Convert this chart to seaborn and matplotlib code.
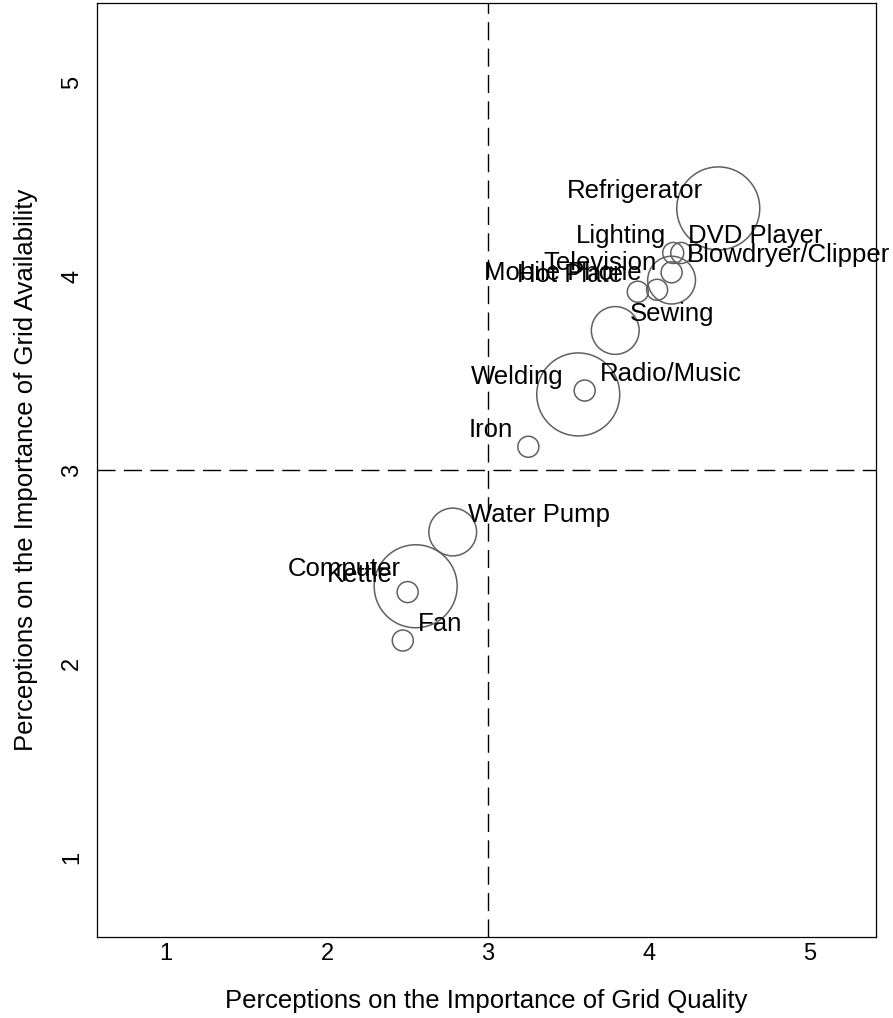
import matplotlib
matplotlib.use("Agg")
import matplotlib.pyplot as plt
import seaborn as sns
import pandas as pd

# ---- data ----
appliances = ["Refrigerator", "Lighting", "DVD Player", "Television", "Blowdryer/Clipper",
              "Mobile Phone", "Hot Plate", "Sewing", "Welding", "Radio/Music",
              "Iron", "Water Pump", "Computer", "Kettle", "Fan"]
grid_quality = [4.43, 4.20, 4.15, 4.14, 4.14, 4.05, 3.93, 3.79, 3.56, 3.60,
                3.25, 2.78, 2.55, 2.50, 2.47]
grid_availability = [4.35, 4.12, 4.12, 3.98, 4.02, 3.93, 3.92, 3.72, 3.39, 3.41,
                     3.12, 2.68, 2.40, 2.37, 2.12]
weight = [15, 1, 1, 5, 1, 1, 1, 5, 15, 1, 1, 5, 15, 1, 1]
label_side = ["left", "left", "right", "left", "right", "left", "left", "right",
              "left", "right", "left", "right", "left", "left", "right"]
tick_values = [1, 2, 3, 4, 5]
xlabel = "Perceptions on the Importance of Grid Quality"
ylabel = "Perceptions on the Importance of Grid Availability"

df = pd.DataFrame({"appliance": appliances, "quality": grid_quality,
                   "availability": grid_availability, "weight": weight})

sns.set_theme(style="white")
plt.rcParams["font.family"] = ["Liberation Sans", "DejaVu Sans"]
plt.rcParams["text.color"] = "black"
plt.rcParams["axes.labelcolor"] = "black"
plt.rcParams["xtick.color"] = "black"
plt.rcParams["ytick.color"] = "black"

W, H = 893, 1018
fig = plt.figure(figsize=(W / 100, H / 100), dpi=100)
L, R, T, B = 97, 876, 3, 937
ax = fig.add_axes([L / W, 1 - B / H, (R - L) / W, (B - T) / H])

sns.scatterplot(data=df, x="quality", y="availability", size="weight",
                sizes=(229, 3570), size_norm=(1, 15), legend=False,
                facecolor="none", edgecolor="#606060", linewidth=1.1, ax=ax)

ax.axvline(3, color="black", lw=1.0, linestyle=(0, (13, 6)), zorder=0)
ax.axhline(3, color="black", lw=1.0, linestyle=(0, (13, 6)), zorder=0)

for name, xq, ya, side in zip(appliances, grid_quality, grid_availability, label_side):
    dx = -10.8 if side == "left" else 10.8
    ax.annotate(name, (xq, ya), xytext=(dx, 12.2), textcoords="offset points",
                ha="right" if side == "left" else "left", va="center",
                fontsize=18.5, color="black")

ax.set_xlim(0.57, 5.41)
ax.set_ylim(0.59, 5.41)
ax.set_xticks(tick_values)
ax.set_yticks(tick_values)
ax.set_xticklabels([str(v) for v in tick_values], fontsize=17, color="black")
ax.set_yticklabels([str(v) for v in tick_values], fontsize=17, rotation=90,
                   va="center", color="black")
ax.tick_params(axis="x", length=0, pad=4.5)
ax.tick_params(axis="y", length=0, pad=10)

ax.set_xlabel(xlabel, fontsize=18.5, color="black")
ax.set_ylabel(ylabel, fontsize=18.5, color="black")
ax.xaxis.set_label_coords((486.5 - L) / (R - L), (B - 1001) / (B - T))
ax.xaxis.label.set_va("center")
ax.yaxis.set_label_coords((26 - L) / (R - L), 0.5)
ax.yaxis.label.set_va("center")

for s in ax.spines.values():
    s.set_color("black")
    s.set_linewidth(0.9)
    s.set_visible(True)
ax.grid(False)
ax.set_facecolor("white")

fig.savefig("out.png", dpi=100, facecolor="white")
